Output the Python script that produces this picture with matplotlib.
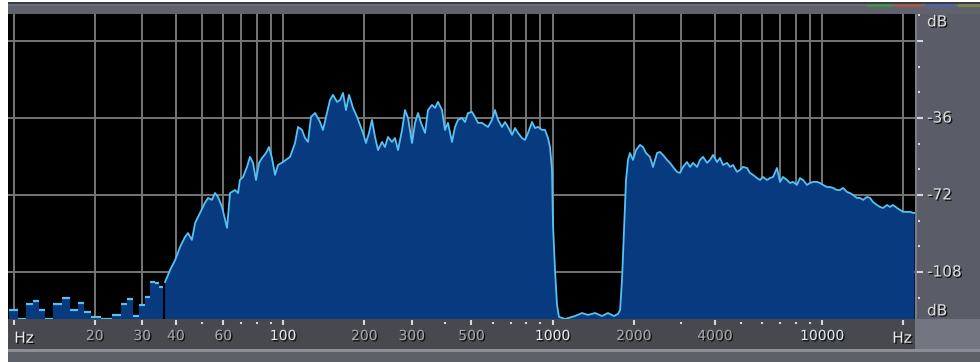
import numpy as np
import matplotlib
matplotlib.use("Agg")
import matplotlib.pyplot as plt
from matplotlib.patches import Rectangle
import matplotlib.patheffects as pe

# ---- spectrum data -------------------------------------------------------
# Low-frequency FFT bins (drawn as blocks)
bin_freq_hz = [9.96, 10.75, 11.47, 12.07, 12.70, 13.43, 14.69, 15.66, 16.77,
               17.88, 18.74, 20.07, 22.04, 24.42, 25.70, 27.18, 28.36, 29.85,
               31.42, 32.80, 34.22, 35.41]
bin_level_db = [-125.8, -130.0, -123.0, -121.6, -125.8, -130.0, -123.0, -120.2,
                -125.8, -122.5, -126.7, -129.0, -130.0, -128.1, -123.0, -120.6,
                -128.6, -123.4, -119.7, -112.7, -113.1, -115.0]

# Continuous part of the spectrum
freq_hz = [
    36.5, 38.1, 39.8, 41.5, 43.3, 44.4, 45.9, 47.2, 49.2, 51.3, 52.7, 54.5,
    55.9, 57.4, 59.4, 62.0, 63.6, 66.4, 68.1, 69.2, 71.1, 73.5, 75.4, 77.4,
    79.4, 81.5, 83.6, 86.5, 88.7, 91.0, 93.4, 95.8, 100.0, 106.2, 110.8, 113.7,
    117.6, 120.7, 123.8, 127.0, 131.5, 137.2, 140.7, 145.6, 149.4, 153.3, 158.7,
    162.8, 167.0, 171.3, 175.8, 181.9, 188.2, 193.1, 198.1, 203.2, 208.5, 213.9,
    219.5, 225.2, 233.0, 239.0, 245.2, 253.8, 260.4, 267.2, 276.5, 283.6, 291.0,
    301.1, 308.9, 316.9, 325.2, 336.5, 345.1, 357.2, 366.4, 376.0, 389.0, 399.0,
    409.4, 423.7, 434.6, 446.0, 461.5, 473.5, 485.8, 502.6, 515.7, 529.1, 547.5,
    561.7, 576.4, 596.4, 611.9, 627.8, 649.6, 666.5, 683.8, 707.6, 726.0, 744.7,
    770.6, 790.7, 811.2, 839.4, 861.2, 883.6, 914.4, 938.0, 962.4, 978.8, 995.7,
    1004.4, 1021.7, 1039.3, 1057.1, 1113, 1212, 1287, 1354, 1438, 1527, 1606,
    1691, 1750, 1781, 1811, 1842, 1874, 1906, 1939, 1989, 2041, 2112, 2167, 2223,
    2300, 2360, 2443, 2505, 2570, 2660, 2729, 2800, 2897, 2972, 3050, 3156, 3238,
    3322, 3438, 3527, 3618, 3745, 3842, 3941, 4079, 4183, 4293, 4442, 4557, 4676,
    4838, 4963, 5093, 5269, 5406, 5546, 5740, 5889, 6041, 6251, 6413, 6580, 6808,
    6986, 7167, 7417, 7609, 7806, 8076, 8287, 8502, 8797, 9026, 9260, 9582, 9831,
    10086, 10436, 10708, 10984, 11367, 11661, 11964, 12381, 12701, 13031, 13485,
    13836, 14195, 14689, 15071, 15462, 16000, 16416, 16842, 17429, 17881, 18346,
    18985, 19478, 19984, 20680, 21217, 21768, 22050]
level_db = [
    -112.7, -107.1, -102.4, -96.3, -91.6, -89.8, -93.0, -85.1, -80.4, -75.7,
    -73.4, -74.3, -71.1, -72.9, -77.6, -87.4, -71.1, -69.7, -71.1, -65.0, -63.6,
    -58.9, -54.2, -57.0, -65.0, -57.0, -54.7, -52.4, -49.6, -54.7, -62.6, -58.0,
    -56.6, -54.2, -47.7, -40.2, -41.6, -45.4, -47.2, -35.5, -33.7, -37.9, -41.6,
    -33.7, -27.6, -25.2, -28.5, -27.6, -24.3, -32.3, -25.2, -31.3, -35.5, -39.3,
    -43.0, -47.7, -43.0, -36.9, -44.9, -51.0, -47.2, -49.6, -44.9, -47.2, -45.4,
    -51.0, -41.6, -32.3, -36.0, -47.7, -38.3, -33.7, -38.3, -43.0, -32.3, -29.9,
    -31.3, -28.5, -32.3, -41.6, -38.3, -47.2, -40.2, -36.9, -36.0, -37.9, -33.7,
    -33.2, -35.5, -38.3, -38.3, -39.3, -40.2, -36.9, -32.3, -36.9, -40.2, -37.9,
    -40.2, -43.9, -40.7, -43.0, -45.4, -46.3, -43.0, -37.9, -40.7, -40.2, -41.6,
    -41.6, -45.4, -49.6, -60.3, -86.0, -107.1, -123.4, -129.0, -130.0, -128.6,
    -127.2, -128.1, -127.2, -128.6, -127.2, -128.6, -127.6, -125.8, -111.7,
    -88.4, -65.0, -55.6, -52.4, -55.6, -51.0, -48.6, -49.6, -52.4, -54.2, -58.9,
    -52.4, -51.9, -53.3, -55.6, -57.0, -58.9, -61.2, -61.7, -58.9, -56.6, -58.9,
    -57.0, -58.9, -55.6, -54.2, -57.0, -55.6, -53.3, -56.6, -54.7, -58.0, -57.0,
    -58.9, -58.0, -61.2, -60.3, -58.9, -59.4, -61.7, -62.6, -64.1, -65.0, -63.6,
    -65.0, -64.1, -63.6, -59.4, -65.9, -63.6, -65.0, -66.4, -65.9, -67.3, -64.1,
    -65.0, -67.3, -66.4, -65.9, -65.9, -66.4, -67.3, -68.3, -68.3, -68.7, -69.7,
    -69.7, -68.7, -70.6, -71.1, -72.0, -73.4, -73.4, -74.3, -72.9, -73.4, -75.3,
    -76.7, -77.6, -78.1, -76.7, -77.6, -76.7, -78.1, -79.0, -79.9, -79.9, -79.9,
    -80.4, -80.4]

# ---- axis labelling --------------------------------------------------------
x_tick_values = [20, 30, 40, 60, 100, 200, 300, 500, 1000, 2000, 4000, 10000]
x_tick_labels = ["20", "30", "40", "60", "100", "200", "300", "500", "1000",
                 "2000", "4000", "10000"]
x_bright_labels = ["100", "1000"]
y_tick_values = [-36, -72, -108]
y_tick_labels = ["-36", "-72", "-108"]
y_grid_values = [0, -36, -72, -108]

FREQ_MIN, FREQ_MAX = 9.54, 22135
DB_MIN, DB_MAX = -130.0, 12.6

# ---- colours ---------------------------------------------------------------
PLOT_BG = "#000000"
FILL = "#083a7f"
EDGE = "#56c2f2"
GRID = "#767676"
STRIP = "#48494f"
PANEL = "#5a5d68"
CORNER = "#737680"
FRAME = "#3a3c42"
TOPBAR = "#60636d"

W, H = 980, 362


def fbox(x0, y0, x1, y1):
    """Figure-fraction rectangle from pixel edges measured from the top-left."""
    return [x0 / W, 1 - y1 / H, (x1 - x0) / W, (y1 - y0) / H]


fig = plt.figure(figsize=(W / 100, H / 100), dpi=100, facecolor="white")


def fig_rect(x0, y0, x1, y1, color):
    l, b, w, h = fbox(x0, y0, x1, y1)
    fig.patches.append(Rectangle((l, b), w, h, transform=fig.transFigure,
                                 facecolor=color, edgecolor="none", zorder=-10))


# window chrome
fig_rect(8, 2, 980, 362, FRAME)
fig_rect(8, 4, 980, 14, TOPBAR)
fig_rect(8, 4, 980, 6, "#6c6f79")
fig_rect(867, 4, 893, 7, "#4d8a52")
fig_rect(895, 4, 921, 7, "#a4574f")
fig_rect(926, 4, 955, 7, "#5262a4")
fig_rect(958, 4, 980, 7, "#7d8350")
fig_rect(915, 14, 980, 319, PANEL)
fig_rect(8, 319, 915, 349, STRIP)
fig_rect(915, 319, 980, 349, CORNER)
fig_rect(8, 349, 980, 352, "#8c8e96")
fig_rect(8, 352, 980, 362, "#5e6068")

shadow = [pe.withSimplePatchShadow(offset=(1, -1), shadow_rgbFace="black",
                                   alpha=0.8)]

# ---- main spectrum axes ------------------------------------------------------
ax = fig.add_axes(fbox(8, 14, 915, 319))
ax.set_facecolor(PLOT_BG)
ax.set_xscale("log")
ax.set_xlim(FREQ_MIN, FREQ_MAX)
ax.set_ylim(DB_MIN, DB_MAX)

grid_freqs = [m * 10 ** d for d in range(1, 4) for m in range(1, 10)] + [10000, 20000]
for f in grid_freqs:
    ax.axvline(f, color=GRID, lw=1.4, zorder=1)
for g in y_grid_values:
    ax.axhline(g, color=GRID, lw=1.4, zorder=1)

# low bins: blocks spanning half-way (geometrically) to their neighbours
bf = np.asarray(bin_freq_hz)
mids = np.sqrt(bf[:-1] * bf[1:])
edges = np.concatenate([[bf[0] ** 2 / mids[0]], mids, [bf[-1] ** 2 / mids[-1]]])
heights = np.asarray(bin_level_db) - (DB_MIN - 10)
ax.bar(edges[:-1], heights, width=np.diff(edges), bottom=DB_MIN - 10,
       align="edge", color=FILL, edgecolor="none", zorder=2)
ax.hlines(bin_level_db, edges[:-1], edges[1:], color=EDGE, lw=1.6, zorder=3)

ax.fill_between(freq_hz, level_db, DB_MIN - 10, facecolor=FILL,
                edgecolor="none", zorder=2)
ax.plot(freq_hz, level_db, color=EDGE, lw=1.3, zorder=3)

ax.set_xticks([])
ax.set_yticks([])
ax.minorticks_off()
for s in ax.spines.values():
    s.set_visible(False)

# ---- frequency strip -------------------------------------------------------
axf = fig.add_axes(fbox(8, 319, 915, 349), sharex=ax)
axf.set_facecolor("none")
axf.set_ylim(30, 0)
axf.axis("off")
minor_freqs = [f for f in grid_freqs if f not in x_tick_values and f != 10]
axf.vlines(minor_freqs, 3, 5, color="#d8d8d8", lw=1.5)
axf.vlines(x_tick_values, 1, 6, color="#d8d8d8", lw=1.5)
axf.vlines([10, 20000], 1, 6, color="#d8d8d8", lw=1.5)
for v, lab in zip(x_tick_values, x_tick_labels):
    if lab in x_bright_labels:
        col = "#ececec"
    elif v == 10000:
        col = "#dcecf6"
    else:
        col = "#a9a9a9"
    axf.text(v, 17, lab, ha="center", va="center", fontsize=10, color=col,
             family="DejaVu Sans", path_effects=shadow)
axf.text(16 / 907, 0.36, "Hz", transform=axf.transAxes, ha="center",
         va="center", fontsize=11, color="#ececec", path_effects=shadow)
axf.text(894 / 907, 0.36, "Hz", transform=axf.transAxes, ha="center",
         va="center", fontsize=11, color="#ececec", path_effects=shadow)

# ---- level strip -----------------------------------------------------------
axl = fig.add_axes(fbox(915, 14, 980, 319), sharey=ax)
axl.set_facecolor("none")
axl.set_xlim(0, 65)
axl.axis("off")
axl.axvline(0.5, color="#80838c", lw=1.2)
level_marks = list(range(12, -121, -12))
axl.hlines([m for m in level_marks if m % 36 != 0], 2.5, 4.5,
           color="#d8d8d8", lw=1.5)
axl.hlines(y_grid_values, 2, 8, color="#d8d8d8", lw=1.5)
for v, lab in zip(y_tick_values, y_tick_labels):
    axl.text(12, v, lab, ha="left", va="center", fontsize=11,
             color="#dcdcdc", path_effects=shadow)
axl.text(12, 8.9, "dB", ha="left", va="center", fontsize=11,
         color="#dcdcdc", path_effects=shadow)
axl.text(12, -126.2, "dB", ha="left", va="center", fontsize=11,
         color="#dcdcdc", path_effects=shadow)

fig.savefig("out.png", dpi=100, facecolor="white")
